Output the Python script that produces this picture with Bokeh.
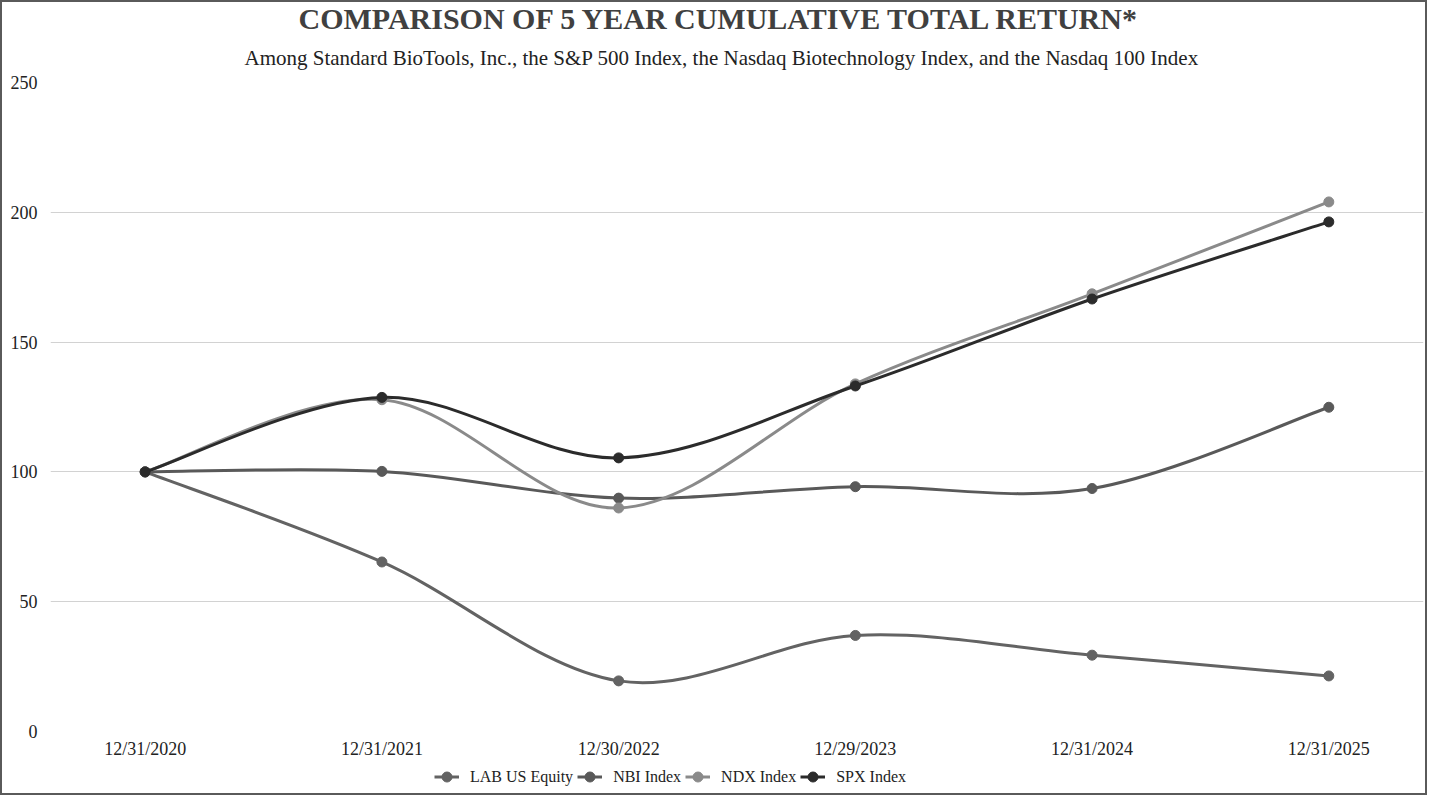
from bokeh.plotting import figure
from bokeh.layouts import column
from bokeh.models import Title, Legend, LegendItem, FixedTicker, Range1d, ColumnDataSource
from bokeh.embed import file_html
from bokeh.resources import INLINE

dates = ["12/31/2020", "12/31/2021", "12/30/2022", "12/29/2023", "12/31/2024", "12/31/2025"]
lab = [100, 65.3, 19.5, 37.0, 29.4, 21.4]
nbi = [100, 100.2, 89.9, 94.3, 93.6, 124.9]
ndx = [100, 127.8, 86.1, 133.9, 168.6, 204.0]
spx = [100, 128.7, 105.4, 133.1, 166.6, 196.3]
y_ticks = [0, 50, 100, 150, 200, 250]

series = [
    ("LAB US Equity", lab, "#636363"),
    ("NBI Index", nbi, "#595959"),
    ("NDX Index", ndx, "#8a8a8a"),
    ("SPX Index", spx, "#2b2b2b"),
]

FONT = "Liberation Serif"
W = 1423

p = figure(width=W, height=759, output_backend="svg", toolbar_location=None,
           x_range=Range1d(-0.4, 5.4), y_range=Range1d(0, 250),
           min_border_left=48, min_border_right=2, min_border_top=0, min_border_bottom=28,
           title=None)
p.outline_line_color = None
p.background_fill_color = "white"

sub = Title(text="Among Standard BioTools, Inc., the S&P 500 Index, the Nasdaq Biotechnology Index, and the Nasdaq 100 Index",
            align="left", offset=194, text_font=FONT, text_font_size="21px", text_font_style="normal",
            text_color="#222222", standoff=25)
main = Title(text="COMPARISON OF 5 YEAR CUMULATIVE TOTAL RETURN*", align="left", offset=248,
             text_font=FONT, text_font_size="30px", text_font_style="bold",
             text_color="#404040", standoff=-6)
p.add_layout(sub, "above")
p.add_layout(main, "above")

xs = list(range(len(dates)))

def bez(xv, yv):
    n = len(xv)
    x0, y0, x1, y1, cx0, cy0, cx1, cy1 = [], [], [], [], [], [], [], []
    for i in range(n - 1):
        pm = max(i - 1, 0)
        pp = min(i + 2, n - 1)
        x0.append(xv[i]); y0.append(yv[i])
        x1.append(xv[i + 1]); y1.append(yv[i + 1])
        cx0.append(xv[i] + (xv[i + 1] - xv[pm]) / 6.0)
        cy0.append(yv[i] + (yv[i + 1] - yv[pm]) / 6.0)
        cx1.append(xv[i + 1] - (xv[pp] - xv[i]) / 6.0)
        cy1.append(yv[i + 1] - (yv[pp] - yv[i]) / 6.0)
    return dict(x0=x0, y0=y0, x1=x1, y1=y1, cx0=cx0, cy0=cy0, cx1=cx1, cy1=cy1)

# legend strip (separate figure so it can sit below the axis labels)
p2 = figure(width=W, height=32, output_backend="svg", toolbar_location=None,
            x_range=Range1d(0, 1), y_range=Range1d(0, 1),
            x_axis_type=None, y_axis_type=None,
            min_border_left=0, min_border_right=0, min_border_top=0, min_border_bottom=0)
p2.outline_line_color = None
p2.xgrid.visible = False
p2.ygrid.visible = False

items = []
for name, vals, col in series:
    src = ColumnDataSource(bez(xs, vals))
    p.bezier(x0="x0", y0="y0", x1="x1", y1="y1", cx0="cx0", cy0="cy0", cx1="cx1", cy1="cy1",
             source=src, line_color=col, line_width=3)
    p.scatter(xs, vals, size=10, fill_color=col, line_color=col)
    # legend key renderers (their data lie outside this strip's ranges)
    lg = p2.line(xs, vals, line_color=col, line_width=3)
    sc = p2.scatter(xs, vals, size=10, fill_color=col, line_color=col)
    items.append(LegendItem(label=name, renderers=[lg, sc]))

legend = Legend(items=items, orientation="horizontal", location=(384, 4),
                label_text_font=FONT, label_text_font_size="16px", label_text_color="#222222",
                glyph_width=25, glyph_height=25, label_standoff=11, spacing=4,
                padding=0, margin=0, border_line_color=None, background_fill_alpha=0)
p2.add_layout(legend, "center")

p.xaxis.ticker = FixedTicker(ticks=xs)
p.xaxis.major_label_overrides = {i: d for i, d in enumerate(dates)}
p.yaxis.ticker = FixedTicker(ticks=y_ticks)
for ax in (p.xaxis, p.yaxis):
    ax.axis_line_color = None
    ax.major_tick_line_color = None
    ax.minor_tick_line_color = None
    ax.major_tick_out = 0
    ax.major_tick_in = 0
    ax.major_label_text_font = FONT
    ax.major_label_text_font_size = "18px"
    ax.major_label_text_color = "#222222"
p.xaxis.major_label_standoff = 7
p.yaxis.major_label_standoff = 13

p.xgrid.grid_line_color = None
p.ygrid.ticker = FixedTicker(ticks=y_ticks)
p.ygrid.grid_line_color = "#d2d2d2"
p.ygrid.grid_line_width = 1

layout = column(p, p2, spacing=0, styles={"border": "2px solid #5a5a5a", "background-color": "white"})

open("out.html", "w").write(file_html(layout, INLINE))
